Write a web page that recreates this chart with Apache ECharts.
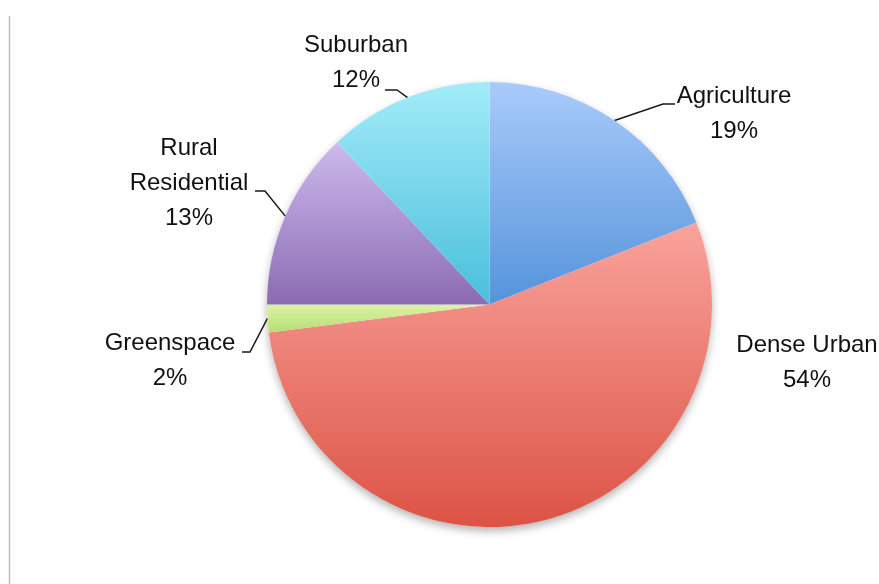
<!DOCTYPE html>
<html>
<head>
<meta charset="utf-8">
<script src="https://cdn.jsdelivr.net/npm/echarts@6/dist/echarts.min.js"></script>
<style>
  html, body { margin: 0; padding: 0; background: #ffffff; }
  #chart { width: 879px; height: 584px; }
</style>
</head>
<body>
<div id="chart"></div>
<script>
// Land-use shares
const categories = ['Agriculture', 'Dense Urban', 'Greenspace', 'Rural\nResidential', 'Suburban'];
const shares = [19, 54, 2, 13, 12];

// Top / bottom colours of each slice's vertical gradient
const topColors = ['#a9cbfa', '#f9a39c', '#dcf2a6', '#cdbaec', '#a3ecf9'];
const bottomColors = ['#5593dc', '#dc5345', '#b5de76', '#8b6bb3', '#49bedb'];

// Label placement: centre of the text block, plus the elbow and end of its leader line
const labelSpots = [
  { center: [734, 114], elbow: [663, 104], end: [675, 104] },
  { center: [807, 363], elbow: null, end: null },
  { center: [170, 361], elbow: [250, 352], end: [242, 352] },
  { center: [189, 183], elbow: [265, 191], end: [255, 191] },
  { center: [356, 63], elbow: [397, 90], end: [385, 90] }
];

const pieCenter = [489.5, 304.5];
const pieRadius = 222.5;

const chart = echarts.init(document.getElementById('chart'), null, { renderer: 'canvas' });

const sliceData = categories.map((name, i) => ({
  name: name,
  value: shares[i],
  itemStyle: {
    color: new echarts.graphic.LinearGradient(0, 0, 0, 1, [
      { offset: 0, color: topColors[i] },
      { offset: 1, color: bottomColors[i] }
    ])
  },
  labelLine: { show: labelSpots[i].elbow !== null }
}));

const total = shares.reduce((a, b) => a + b, 0);

chart.setOption({
  animation: false,
  backgroundColor: '#ffffff',
  graphic: [{
    type: 'line',
    shape: { x1: 9.5, y1: 16, x2: 9.5, y2: 584 },
    style: { stroke: '#bfbfbf', lineWidth: 1.5 },
    silent: true
  }],
  series: [
    {
      // soft drop shadow underneath the whole pie
      type: 'pie',
      silent: true,
      center: pieCenter,
      radius: pieRadius,
      z: 1,
      label: { show: false },
      labelLine: { show: false },
      data: [{ value: total, itemStyle: { color: '#ffffff', shadowBlur: 8, shadowOffsetY: 4, shadowColor: 'rgba(0,0,0,0.3)' } }]
    },
    {
      type: 'pie',
      center: pieCenter,
      radius: pieRadius,
      startAngle: 90,
      clockwise: true,
      z: 2,
      avoidLabelOverlap: false,
      itemStyle: { borderWidth: 0 },
      label: {
        show: true,
        position: 'outside',
        color: '#111111',
        fontFamily: '"Liberation Sans", Arial, Helvetica, sans-serif',
        fontSize: 24,
        lineHeight: 35,
        align: 'center',
        formatter: p => p.name + '\n' + Math.round(p.percent) + '%'
      },
      labelLine: {
        show: true,
        length: 10,
        length2: 10,
        lineStyle: { color: '#1a1a1a', width: 1.5 }
      },
      labelLayout: function (params) {
        const spot = labelSpots[params.dataIndex];
        const out = {
          x: spot.center[0],
          y: spot.center[1],
          align: 'center',
          verticalAlign: 'middle'
        };
        if (spot.elbow && params.labelLinePoints) {
          out.labelLinePoints = [params.labelLinePoints[0], spot.elbow, spot.end];
        }
        return out;
      },
      data: sliceData
    }
  ]
});
</script>
</body>
</html>
